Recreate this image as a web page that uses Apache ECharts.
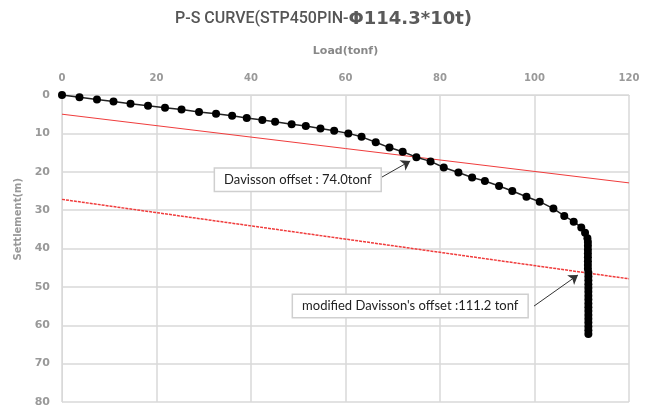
<!DOCTYPE html>
<html>
<head>
<meta charset="utf-8">
<script src="https://cdn.jsdelivr.net/npm/echarts@6/dist/echarts.min.js"></script>
<style>
  html, body { margin: 0; padding: 0; background: #fff; }
  #chart { width: 647px; height: 408px; }
</style>
</head>
<body>
<div id="chart"></div>
<script>
// load (tonf) vs settlement
const loads = [0, 3.7, 7.4, 10.9, 14.5, 18.2, 21.8, 25.3, 29.0, 32.6, 36.0, 39.1, 42.4, 45.1, 48.6,
  51.6, 54.7, 57.6, 60.6, 63.4, 66.4, 69.3, 72.1, 75.0, 78.0, 80.8, 83.9, 86.8, 89.5, 92.5,
  95.3, 98.3, 101.1, 104.0, 106.3, 108.3, 109.9, 110.7, 111.2,
  111.3, 111.3, 111.3, 111.3, 111.3, 111.3, 111.3, 111.3, 111.4, 111.4, 111.4, 111.4, 111.4,
  111.4, 111.4, 111.4, 111.4, 111.4, 111.4, 111.4, 111.4, 111.4, 111.4, 111.4, 111.4];
const settlements = [0, 0.6, 1.2, 1.7, 2.3, 2.8, 3.3, 3.8, 4.4, 4.9, 5.4, 6.0, 6.5, 7.0, 7.6,
  8.1, 8.7, 9.3, 10.0, 10.9, 12.3, 13.7, 14.8, 16.2, 17.3, 18.9, 20.2, 21.5, 22.4, 23.7,
  25.0, 26.5, 27.8, 29.6, 31.5, 33.0, 34.5, 35.9, 37.3,
  38.3, 39.3, 40.3, 41.3, 42.3, 43.3, 44.3, 45.3, 46.3, 47.3, 48.3, 49.3, 50.3,
  51.3, 52.3, 53.3, 54.3, 55.3, 56.3, 57.3, 58.3, 59.3, 60.3, 61.3, 62.3];

// offset lines: [load, settlement] at both ends
const davissonLine = [[0, 5.0], [120, 22.9]];
const modifiedLine = [[0, 27.2], [120, 47.9]];

const xTicks = [0, 20, 40, 60, 80, 100, 120];
const yTicks = [0, 10, 20, 30, 40, 50, 60, 70, 80];

// annotation texts and where they sit (data coords)
const noteTexts = ['Davisson offset : 74.0tonf', "modified Davisson's offset :111.2 tonf"];
const notePos = [[49.9, 22.1], [73.7, 55.0]];
const arrows = [
  [[67.7, 21.4], [73.7, 17.2]],
  [[99.9, 55.0], [109.2, 46.9]]
];

const psData = loads.map((v, i) => [v, settlements[i]]);

const chart = echarts.init(document.getElementById('chart'));

const option = {
  animation: false,
  backgroundColor: '#fff',
  title: {
    text: '{a|P-S CURVE(STP450PIN-}{b|Φ114.3*10t)}',
    left: 'center',
    top: 5,
    textStyle: {
      rich: {
        a: { fontFamily: 'Roboto', fontSize: 16, fontWeight: 500, color: '#555' },
        b: { fontFamily: 'DejaVu Sans', fontSize: 18, fontWeight: 'bold', color: '#5a5a5a' }
      }
    }
  },
  grid: { left: 62, right: 18, top: 95, bottom: 6 },
  xAxis: {
    type: 'value',
    position: 'top',
    min: xTicks[0],
    max: xTicks[xTicks.length - 1],
    interval: 20,
    name: 'Load(tonf)',
    nameLocation: 'middle',
    nameGap: 38,
    nameTextStyle: { color: '#888', fontSize: 11, fontWeight: 'bold', fontFamily: 'DejaVu Sans' },
    axisLine: { show: true, lineStyle: { color: '#d9d9d9' } },
    axisTick: { show: false },
    axisLabel: { color: '#999', fontSize: 10, fontWeight: 'bold', fontFamily: 'DejaVu Sans', margin: 12 },
    splitLine: { show: true, lineStyle: { color: '#d9d9d9', width: 1.5 } }
  },
  yAxis: {
    type: 'value',
    inverse: true,
    min: yTicks[0],
    max: yTicks[yTicks.length - 1],
    interval: 10,
    axisLine: { show: true, lineStyle: { color: '#d9d9d9' } },
    axisTick: { show: false },
    axisLabel: { color: '#999', fontSize: 11, fontWeight: 'bold', fontFamily: 'DejaVu Sans', margin: 12 },
    splitLine: { show: true, lineStyle: { color: '#d9d9d9', width: 1.5 } }
  },
  graphic: [{
    type: 'text',
    left: 13,
    top: 178,
    rotation: Math.PI / 2,
    style: {
      text: 'Settlement(m)',
      fill: '#999',
      font: 'bold 10px "DejaVu Sans"'
    }
  }],
  series: [
    {
      name: 'Davisson',
      type: 'line',
      data: davissonLine,
      symbol: 'none',
      silent: true,
      lineStyle: { color: '#f03c3c', width: 1 }
    },
    {
      name: 'Modified',
      type: 'line',
      data: modifiedLine,
      symbol: 'none',
      silent: true,
      lineStyle: { color: '#f03c3c', width: 1.5, type: [3, 1] }
    },
    {
      name: 'P-S',
      type: 'line',
      data: psData,
      symbol: 'circle',
      symbolSize: 8,
      itemStyle: { color: '#000' },
      lineStyle: { color: '#222', width: 1.5 },
      z: 5
    },
    {
      name: 'notes',
      type: 'scatter',
      data: [],
      silent: true,
      markLine: {
        silent: true,
        symbol: ['none', 'arrow'],
        symbolSize: 9,
        label: { show: false },
        lineStyle: { color: '#333', width: 1, type: 'solid' },
        data: arrows.map(a => [{ coord: a[0] }, { coord: a[1] }])
      },
      markPoint: {
        silent: true,
        symbol: 'rect',
        symbolSize: 0,
        label: {
          show: true,
          position: 'inside',
          color: '#222',
          fontFamily: 'Lato',
          fontSize: 13,
          backgroundColor: '#fff',
          borderColor: '#cfcfcf',
          borderWidth: 1.5,
          padding: [5, 9, 4, 9],
          formatter: p => p.name
        },
        data: noteTexts.map((t, i) => ({ name: t, coord: notePos[i] }))
      },
      z: 10
    }
  ]
};

chart.setOption(option);
window.addEventListener('resize', function () {
  chart.resize();
});
</script>
</body>
</html>
